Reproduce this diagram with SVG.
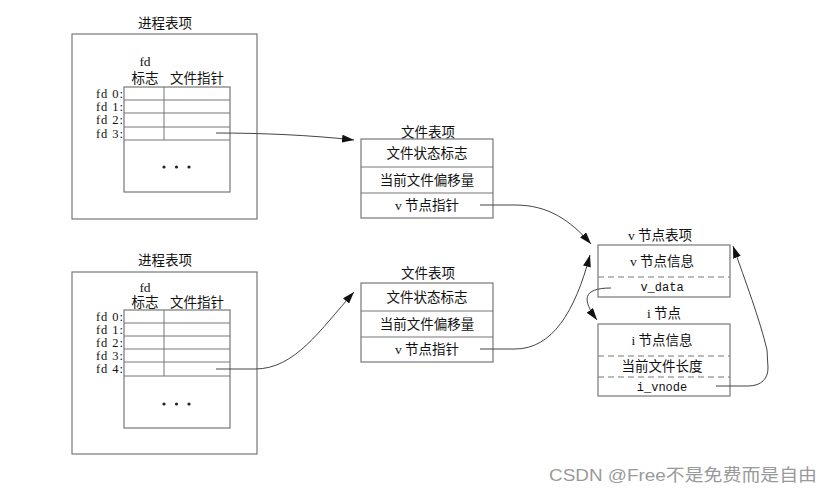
<svg xmlns="http://www.w3.org/2000/svg" width="831" height="494" viewBox="0 0 831 494">
<style>
.box{fill:none;stroke:#777;stroke-width:1.2}
.ln{fill:none;stroke:#777;stroke-width:1}
.dash{fill:none;stroke:#777;stroke-width:1;stroke-dasharray:6,4}
.t{font-family:"Liberation Serif","Noto Sans CJK SC",serif;font-size:13.5px;fill:#111;text-anchor:middle}
.fd{font-family:"Liberation Serif","Noto Sans CJK SC",serif;font-size:12.5px;fill:#111;text-anchor:end}
.m{font-family:"Liberation Mono",monospace;font-size:12px;fill:#111;text-anchor:middle}
.c{fill:none;stroke:#444;stroke-width:1}
.dot{fill:#222}
.wm{font-family:"Liberation Sans","Noto Sans CJK SC",sans-serif;font-size:17px;fill:#9a9a9a}
</style>
<defs>
<marker id="ah" viewBox="0 0 12 8" refX="12" refY="4" markerWidth="12" markerHeight="8" markerUnits="userSpaceOnUse" orient="auto">
<path d="M0,0 L12,4 L0,8 Z" fill="#111"/>
</marker>
</defs>
<rect width="831" height="494" fill="#fff"/>

<g id="proc1">
<text class="t" x="165" y="28">进程表项</text>
<rect class="box" x="72" y="34" width="185" height="185"/>
<text class="t" x="145" y="66">fd</text>
<text class="t" x="145" y="83">标志</text>
<text class="t" x="197" y="83">文件指针</text>
<rect class="box" x="124" y="87" width="106" height="105"/>
<line class="ln" x1="124" y1="100" x2="230" y2="100"/>
<line class="ln" x1="124" y1="113" x2="230" y2="113"/>
<line class="ln" x1="124" y1="127" x2="230" y2="127"/>
<line class="ln" x1="124" y1="140" x2="230" y2="140"/>
<line class="ln" x1="164" y1="87" x2="164" y2="140"/>
<text class="fd" x="123" y="97.5" textLength="27">fd 0:</text>
<text class="fd" x="123" y="110.5" textLength="27">fd 1:</text>
<text class="fd" x="123" y="124" textLength="27">fd 2:</text>
<text class="fd" x="123" y="137.5" textLength="27">fd 3:</text>
<circle class="dot" cx="164" cy="167" r="1.6"/>
<circle class="dot" cx="176.5" cy="167" r="1.6"/>
<circle class="dot" cx="189" cy="167" r="1.6"/>
</g>

<g id="proc2">
<text class="t" x="165" y="265">进程表项</text>
<rect class="box" x="72" y="272" width="185" height="182"/>
<text class="t" x="145" y="292">fd</text>
<text class="t" x="145" y="307">标志</text>
<text class="t" x="197" y="307">文件指针</text>
<rect class="box" x="124" y="310" width="106" height="118"/>
<line class="ln" x1="124" y1="323" x2="230" y2="323"/>
<line class="ln" x1="124" y1="336" x2="230" y2="336"/>
<line class="ln" x1="124" y1="349" x2="230" y2="349"/>
<line class="ln" x1="124" y1="362" x2="230" y2="362"/>
<line class="ln" x1="124" y1="376" x2="230" y2="376"/>
<line class="ln" x1="164" y1="310" x2="164" y2="376"/>
<text class="fd" x="123" y="320.5" textLength="27">fd 0:</text>
<text class="fd" x="123" y="333.5" textLength="27">fd 1:</text>
<text class="fd" x="123" y="346.5" textLength="27">fd 2:</text>
<text class="fd" x="123" y="359.5" textLength="27">fd 3:</text>
<text class="fd" x="123" y="373" textLength="27">fd 4:</text>
<circle class="dot" cx="164" cy="404" r="1.6"/>
<circle class="dot" cx="176.5" cy="404" r="1.6"/>
<circle class="dot" cx="189" cy="404" r="1.6"/>
</g>

<g id="file1">
<text class="t" x="428" y="137">文件表项</text>
<rect class="box" x="361" y="139" width="132" height="79"/>
<line class="ln" x1="361" y1="167" x2="493" y2="167"/>
<line class="ln" x1="361" y1="193" x2="493" y2="193"/>
<text class="t" x="427" y="157.5">文件状态标志</text>
<text class="t" x="427" y="184.5">当前文件偏移量</text>
<text class="t" x="427" y="210">v 节点指针</text>
</g>

<g id="file2">
<text class="t" x="428" y="278">文件表项</text>
<rect class="box" x="361" y="283" width="132" height="79"/>
<line class="ln" x1="361" y1="311" x2="493" y2="311"/>
<line class="ln" x1="361" y1="337" x2="493" y2="337"/>
<text class="t" x="427" y="301.5">文件状态标志</text>
<text class="t" x="427" y="328.5">当前文件偏移量</text>
<text class="t" x="427" y="354">v 节点指针</text>
</g>

<g id="vnode">
<text class="t" x="660" y="240">v 节点表项</text>
<rect class="box" x="598" y="245" width="132" height="52"/>
<line class="dash" x1="598" y1="277" x2="730" y2="277"/>
<text class="t" x="662" y="265.5">v 节点信息</text>
<text class="m" x="662" y="291">v_data</text>
</g>

<g id="inode">
<text class="t" x="664" y="318">i 节点</text>
<rect class="box" x="598" y="324" width="132" height="72"/>
<line class="dash" x1="598" y1="356" x2="730" y2="356"/>
<line class="dash" x1="598" y1="377" x2="730" y2="377"/>
<text class="t" x="662" y="344.5">i 节点信息</text>
<text class="t" x="662" y="371">当前文件长度</text>
<text class="m" x="662" y="390.5">i_vnode</text>
</g>

<g id="connectors">
<path class="c" marker-end="url(#ah)" d="M216,133 C260,133 310,135 354,140"/>
<path class="c" marker-end="url(#ah)" d="M216,369 L255,369 C295,369 320,330 354,292"/>
<path class="c" marker-end="url(#ah)" d="M480,205 L515,205 C548,205 570,220 591,244"/>
<path class="c" marker-end="url(#ah)" d="M480,349 L515,349 C552,349 575,312 590,255"/>
<path class="c" marker-end="url(#ah)" d="M611,288 C582,288 582,300 597,320"/>
<path class="c" marker-end="url(#ah)" d="M716,386 L748,386 C762,386 768,378 768,368 L767,350 C760,320 745,280 733,246"/>
</g>

<text class="wm" x="549" y="481" textLength="268" lengthAdjust="spacingAndGlyphs">CSDN @Free不是免费而是自由</text>
</svg>
